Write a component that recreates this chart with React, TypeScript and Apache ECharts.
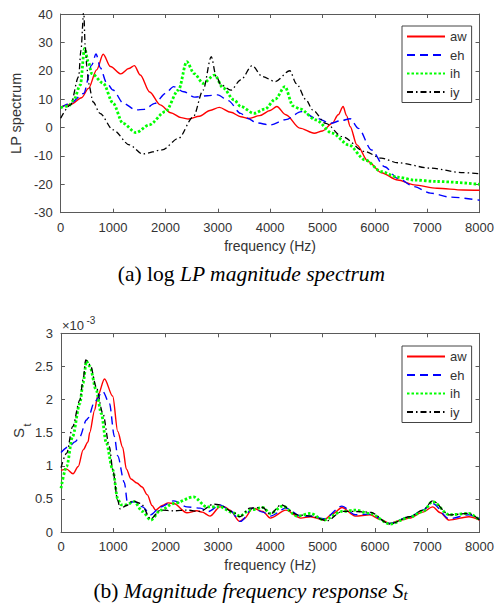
import React, { useEffect, useRef } from "react";
import * as echarts from "echarts";

// ---------- (a) log LP magnitude spectrum: [frequency Hz, value] ----------
const lpAw: number[][] = [[0,7.2],[200,8.2],[400,10.5],[531,13.8],[687,20.3],[812,25.8],[950,21.5],[1150,18.9],[1300,20.8],[1407,21.8],[1520,18.5],[1700,12.5],[1900,8],[2100,5.2],[2300,3.5],[2440,3],[2650,4],[2850,6],[3030,7.1],[3250,5.4],[3440,3.8],[3590,3.2],[3800,4.2],[4000,6],[4128,7.4],[4300,4.5],[4566,-0.2],[4843,-2],[5000,-1.2],[5187,1.5],[5300,4.5],[5394,7.4],[5460,4.2],[5531,0.3],[5656,-6.1],[5875,-12],[6125,-15.9],[6437,-18.5],[6750,-20.2],[7187,-21.4],[7687,-22],[8000,-22.1]];
const lpEh: number[][] = [[0,7],[188,8.6],[438,12],[593,22],[675,25.9],[760,21],[870,16],[1000,13.2],[1200,8.5],[1433,6.2],[1600,6.4],[1800,8.5],[2000,12],[2157,14.4],[2350,12.6],[2560,10.7],[2800,11.2],[3000,11.5],[3200,9.5],[3437,5],[3565,3.3],[3750,1.6],[4000,0.9],[4300,2.8],[4596,5.6],[4875,3.3],[5156,1.5],[5350,2.4],[5530,3.1],[5687,-0.3],[5937,-7.9],[6187,-13.8],[6437,-17.9],[6750,-20.8],[7062,-23.1],[7437,-24.5],[8000,-25.6]];
const lpIh: number[][] = [[0,7],[150,7.6],[250,9.7],[375,15],[456,27.9],[530,23],[593,19],[812,15.6],[1000,8.6],[1188,1.5],[1437,-1.8],[1688,0.9],[2000,5.6],[2250,13.2],[2407,23.2],[2550,19],[2720,15.6],[2940,18.5],[3100,14],[3313,9.7],[3440,7.4],[3690,5],[3900,6.5],[4100,10],[4283,14.4],[4437,7.6],[4566,6.6],[4875,2.7],[5187,-2],[5500,-6.1],[5812,-11.4],[6125,-15.5],[6437,-17.5],[6750,-18.5],[7187,-19],[8000,-20]];
const lpIy: number[][] = [[0,3.3],[188,8],[343,17.9],[387,27.3],[440,41],[469,28.5],[500,21.5],[531,15.6],[620,9],[750,5],[1000,-0.8],[1313,-6.1],[1563,-9.3],[1938,-7.9],[2250,-3.8],[2533,3.8],[2720,13.2],[2876,25],[2970,18],[3064,15],[3251,13.2],[3440,16.8],[3658,21.8],[3850,18],[4096,16.2],[4377,20],[4500,15.5],[4690,9.7],[4812,6.2],[5062,1.5],[5375,-3.2],[5812,-8.5],[6125,-10.8],[6437,-12.4],[7062,-14.3],[7687,-15.9],[8000,-16.3]];

// ---------- (b) Magnitude frequency response S_t (x 1e-3) ----------
const stAw: number[][] = [[0,0.93],[108,0.95],[230,0.88],[330,0.99],[423,1.24],[517,1.36],[548,1.5],[643,1.84],[700,2.05],[832,2.31],[989,2.05],[1084,1.52],[1178,1.28],[1250,0.95],[1337,0.8],[1450,0.74],[1550,0.68],[1651,0.56],[1740,0.4],[1809,0.33],[1935,0.4],[2050,0.44],[2156,0.43],[2407,0.29],[2596,0.32],[2700,0.3],[2848,0.24],[3038,0.38],[3132,0.38],[3227,0.33],[3417,0.16],[3500,0.2],[3669,0.36],[3858,0.31],[4000,0.21],[4299,0.33],[4583,0.21],[4772,0.23],[5024,0.18],[5200,0.28],[5371,0.37],[5623,0.24],[5906,0.26],[6100,0.19],[6285,0.13],[6500,0.18],[6663,0.21],[6915,0.3],[7104,0.38],[7250,0.29],[7419,0.18],[7797,0.23],[8000,0.18]];
const stEh: number[][] = [[0,1.2],[170,1.3],[265,1.36],[360,1.44],[486,1.69],[517,1.72],[643,1.97],[800,2.12],[926,1.94],[1021,1.44],[1084,1.15],[1210,0.75],[1273,0.43],[1399,0.46],[1557,0.38],[1715,0.26],[1904,0.38],[2156,0.47],[2407,0.38],[2660,0.36],[2818,0.31],[3038,0.41],[3227,0.33],[3429,0.16],[3669,0.36],[3858,0.3],[4000,0.24],[4299,0.36],[4583,0.24],[4772,0.24],[5024,0.2],[5371,0.39],[5623,0.26],[5906,0.27],[6285,0.13],[6663,0.23],[6915,0.33],[7104,0.43],[7419,0.2],[7797,0.26],[8000,0.2]];
const stIh: number[][] = [[0,0.66],[108,0.99],[221,1.44],[360,1.94],[423,2.25],[486,2.58],[550,2.5],[674,2.14],[770,1.79],[864,1.35],[989,0.94],[1084,0.5],[1147,0.41],[1242,0.41],[1399,0.46],[1557,0.31],[1715,0.18],[1904,0.33],[2156,0.43],[2534,0.53],[2786,0.38],[3038,0.38],[3290,0.29],[3417,0.24],[3606,0.33],[3858,0.37],[4000,0.28],[4236,0.39],[4520,0.24],[4772,0.28],[5024,0.18],[5371,0.31],[5623,0.33],[5906,0.28],[6285,0.12],[6663,0.22],[6915,0.31],[7104,0.46],[7419,0.26],[7797,0.28],[8000,0.18]];
const stIy: number[][] = [[0,0.97],[108,1.19],[221,1.59],[360,1.99],[423,2.3],[473,2.6],[560,2.52],[674,2.19],[800,1.79],[926,1.29],[989,0.94],[1084,0.48],[1130,0.35],[1250,0.4],[1368,0.47],[1526,0.43],[1715,0.2],[1904,0.33],[2156,0.32],[2407,0.33],[2660,0.31],[2912,0.42],[3038,0.41],[3290,0.3],[3417,0.23],[3606,0.36],[3858,0.37],[4000,0.27],[4204,0.41],[4520,0.26],[4772,0.24],[5087,0.17],[5371,0.31],[5623,0.31],[5906,0.3],[6285,0.12],[6663,0.23],[6915,0.33],[7104,0.47],[7419,0.26],[7797,0.28],[8000,0.18]];

const seriesNames = ["aw", "eh", "ih", "iy"];

const SANS = "Liberation Sans, Arial, sans-serif";
const SERIF = "Liberation Serif, Times New Roman, serif";
const AXIS_COLOR = "#5a5a5a";
const TEXT_COLOR = "#333";

const styles: Record<string, any> = {
  aw: { color: "#ff0000", width: 1.4, type: "solid" },
  eh: { color: "#0000ff", width: 1.4, type: [8, 5] },
  ih: { color: "#00ff00", width: 2.8, type: [2.5, 2] },
  iy: { color: "#000000", width: 1.3, type: [6, 3, 1.5, 3] },
};

function xAx(grid: number, pos: "bottom" | "top", showLabel: boolean, name?: string) {
  return {
    type: "value",
    gridIndex: grid,
    position: pos,
    min: 0,
    max: 8000,
    interval: 1000,
    name: name || "",
    nameLocation: "middle",
    nameGap: 26,
    nameTextStyle: { fontFamily: SANS, fontSize: 14, color: TEXT_COLOR },
    axisLine: { show: true, onZero: false, lineStyle: { color: AXIS_COLOR, width: 1 } },
    axisTick: { show: true, inside: true, length: 4, lineStyle: { color: AXIS_COLOR } },
    axisLabel: {
      show: showLabel,
      margin: 8,
      fontFamily: SANS,
      fontSize: 13,
      color: TEXT_COLOR,
      formatter: (v: number) => String(v),
    },
    splitLine: { show: false },
  };
}

function yAx(grid: number, pos: "left" | "right", showLabel: boolean, min: number, max: number, interval: number, name?: string) {
  return {
    type: "value",
    gridIndex: grid,
    position: pos,
    min,
    max,
    interval,
    name: name || "",
    nameLocation: "middle",
    nameGap: 34,
    nameRotate: 90,
    nameTextStyle: { fontFamily: SANS, fontSize: 14.5, color: TEXT_COLOR },
    axisLine: { show: true, onZero: false, lineStyle: { color: AXIS_COLOR, width: 1 } },
    axisTick: { show: true, inside: true, length: 4, lineStyle: { color: AXIS_COLOR } },
    axisLabel: {
      show: showLabel,
      margin: 8,
      fontFamily: SANS,
      fontSize: 13,
      color: TEXT_COLOR,
      formatter: (v: number) => String(v),
    },
    splitLine: { show: false },
  };
}

function mkSeries(name: string, data: number[][], axisIdx: number) {
  const s = styles[name];
  return {
    name,
    type: "line",
    xAxisIndex: axisIdx,
    yAxisIndex: axisIdx,
    data,
    symbol: "none",
    smooth: 0.3,
    smoothMonotone: "x",
    clip: true,
    lineStyle: { color: s.color, width: s.width, type: s.type },
    itemStyle: { color: s.color },
  };
}

function legend(top: number) {
  return {
    data: seriesNames,
    orient: "vertical",
    left: 402,
    top,
    itemWidth: 38,
    itemHeight: 10,
    itemGap: 5.5,
    padding: [4, 5, 4, 4],
    borderColor: "#444",
    borderWidth: 1,
    backgroundColor: "#fff",
    itemStyle: { opacity: 0 },
    textStyle: { fontFamily: SANS, fontSize: 13, color: TEXT_COLOR },
  };
}

export default function App() {
  const ref = useRef<HTMLDivElement>(null);

  useEffect(() => {
    if (!ref.current) return;
    const chart = echarts.init(ref.current, null, { renderer: "svg" });
    const option: any = {
      animation: false,
      backgroundColor: "#fff",
      grid: [
        { left: 56.7, top: 14, width: 426.6, height: 198.7, containLabel: false },
        { left: 61, top: 333.3, width: 423, height: 198.7, containLabel: false },
      ],
      xAxis: [
        xAx(0, "bottom", true, "frequency (Hz)"),
        xAx(0, "top", false),
        xAx(1, "bottom", true, "frequency (Hz)"),
        xAx(1, "top", false),
      ],
      yAxis: [
        yAx(0, "left", true, -30, 40, 10, "LP spectrum"),
        yAx(0, "right", false, -30, 40, 10),
        yAx(1, "left", true, 0, 3, 0.5),
        yAx(1, "right", false, 0, 3, 0.5),
      ],
      legend: [legend(26), legend(346)],
      series: [
        mkSeries("aw", lpAw, 0),
        mkSeries("eh", lpEh, 0),
        mkSeries("ih", lpIh, 0),
        mkSeries("iy", lpIy, 0),
        mkSeries("aw", stAw, 2),
        mkSeries("eh", stEh, 2),
        mkSeries("ih", stIh, 2),
        mkSeries("iy", stIy, 2),
      ],
      graphic: [
        {
          type: "text",
          x: 251.5,
          y: 274,
          style: {
            text: "{n|(a) log }{i|LP magnitude spectrum}",
            align: "center",
            verticalAlign: "middle",
            fill: "#000",
            rich: {
              n: { fontFamily: SERIF, fontSize: 21.5, fill: "#000" },
              i: { fontFamily: SERIF, fontSize: 21.5, fontStyle: "italic", fill: "#000" },
            },
          },
        },
        {
          type: "text",
          x: 250.5,
          y: 591,
          style: {
            text: "{n|(b) }{i|Magnitude frequency response }{s|S}{t|t}",
            align: "center",
            verticalAlign: "middle",
            fill: "#000",
            rich: {
              n: { fontFamily: SERIF, fontSize: 21.5, fill: "#000" },
              i: { fontFamily: SERIF, fontSize: 21.5, fontStyle: "italic", fill: "#000" },
              s: { fontFamily: SERIF, fontSize: 21.5, fontStyle: "italic", fill: "#000" },
              t: { fontFamily: SERIF, fontSize: 15, fontStyle: "italic", fill: "#000", verticalAlign: "bottom", padding: [4, 0, 0, 0] },
            },
          },
        },
        {
          type: "text",
          x: 62,
          y: 325,
          style: { text: "×10", fontFamily: SANS, fontSize: 13, fill: TEXT_COLOR, verticalAlign: "middle" },
        },
        {
          type: "text",
          x: 86.5,
          y: 320,
          style: { text: "-3", fontFamily: SANS, fontSize: 10, fill: TEXT_COLOR, verticalAlign: "middle" },
        },
        {
          type: "text",
          x: 18,
          y: 433,
          rotation: Math.PI / 2,
          style: { text: "S", fontFamily: SANS, fontSize: 15, fill: TEXT_COLOR, align: "center", verticalAlign: "middle" },
        },
        {
          type: "text",
          x: 26.5,
          y: 425,
          rotation: Math.PI / 2,
          style: { text: "t", fontFamily: SANS, fontSize: 11, fill: TEXT_COLOR, align: "center", verticalAlign: "middle" },
        },
      ],
    };
    chart.setOption(option);
    return () => chart.dispose();
  }, []);

  return (
    <div
      ref={ref}
      style={{ position: "absolute", left: 0, top: 0, width: 497, height: 604 }}
    />
  );
}
